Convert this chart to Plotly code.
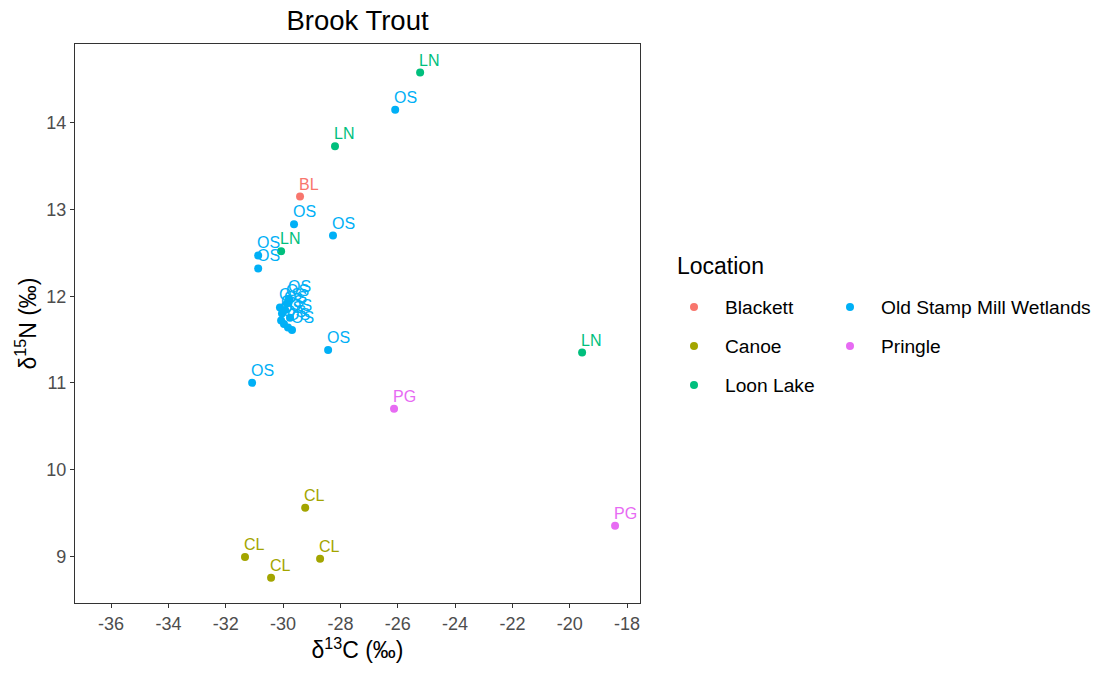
import plotly.graph_objects as go

# Brook trout stable isotope values by sampling location
locations = ["Blackett", "Canoe", "Loon Lake", "Old Stamp Mill Wetlands", "Pringle"]
codes = {"Blackett": "BL", "Canoe": "CL", "Loon Lake": "LN",
         "Old Stamp Mill Wetlands": "OS", "Pringle": "PG"}
colors = {"Blackett": "#F8766D", "Canoe": "#A3A500", "Loon Lake": "#00BF7D",
          "Old Stamp Mill Wetlands": "#00B0F6", "Pringle": "#E76BF3"}

blackett_c = [-29.41]
blackett_n = [13.15]

canoe_c = [-29.23, -31.33, -28.71, -30.42]
canoe_n = [9.56, 8.99, 8.97, 8.75]

loon_c = [-25.22, -28.19, -30.07, -19.57]
loon_n = [14.58, 13.73, 12.52, 11.35]

oldstamp_c = [-26.09, -29.62, -28.26, -30.87, -30.87, -30.11, -29.79, -29.86,
              -30.04, -29.93, -30.07, -29.97, -29.83, -29.69, -29.76, -28.43, -31.08]
oldstamp_n = [14.15, 12.83, 12.70, 12.47, 12.32, 11.87, 11.97, 11.92,
              11.80, 11.84, 11.72, 11.68, 11.64, 11.61, 11.75, 11.38, 11.00]

pringle_c = [-26.13, -18.42]
pringle_n = [10.70, 9.35]

series = {
    "Blackett": (blackett_c, blackett_n),
    "Canoe": (canoe_c, canoe_n),
    "Loon Lake": (loon_c, loon_n),
    "Old Stamp Mill Wetlands": (oldstamp_c, oldstamp_n),
    "Pringle": (pringle_c, pringle_n),
}

x_ticks = list(range(-36, -17, 2))
y_ticks = [9, 10, 11, 12, 13, 14]

# two legend columns, filled top to bottom
legend_column = {"Blackett": "legend", "Canoe": "legend", "Loon Lake": "legend",
                 "Old Stamp Mill Wetlands": "legend2", "Pringle": "legend2"}

fig = go.Figure()
annotations = []
for loc in locations:
    xs, ys = series[loc]
    fig.add_trace(go.Scatter(
        x=xs, y=ys, name=loc, mode="markers",
        marker=dict(color=colors[loc], size=8),
        legend=legend_column[loc], legendgroup=loc,
    ))
    # site code written just above and to the right of each point
    for xv, yv in zip(xs, ys):
        annotations.append(dict(
            x=xv, y=yv, xref="x", yref="y", text=codes[loc], showarrow=False,
            xanchor="left", yanchor="bottom", xshift=-3, yshift=2,
            font=dict(color=colors[loc], size=16),
        ))

plot_left, plot_right = 75, 640
plot_top, plot_bottom = 44, 603
plot_w = plot_right - plot_left
plot_h = plot_bottom - plot_top


def px_x(p):
    return (p - plot_left) / plot_w


def px_y(p):
    return 1 - (p - plot_top) / plot_h


# legend heading shared by both columns
annotations.append(dict(
    x=px_x(675), y=px_y(266), xref="paper", yref="paper", text="Location",
    showarrow=False, xanchor="left", yanchor="middle",
    font=dict(size=23, color="black"),
))

axis_common = dict(
    showgrid=False, zeroline=False, showline=True, mirror=True,
    linecolor="#333333", linewidth=1.2, ticks="outside", ticklen=4,
    tickcolor="#333333", tickfont=dict(size=18, color="#4D4D4D"),
)

legend_common = dict(
    yanchor="top", y=px_y(288), xanchor="left",
    font=dict(size=19.2, color="black"),
    itemwidth=52, tracegroupgap=11, traceorder="grouped",
    bgcolor="rgba(0,0,0,0)",
)

fig.update_layout(
    width=1103, height=677,
    margin=dict(l=plot_left, r=1103 - plot_right, t=plot_top, b=677 - plot_bottom,
                autoexpand=False),
    paper_bgcolor="white", plot_bgcolor="white",
    font=dict(family="Liberation Sans, Arial, sans-serif", color="black"),
    title=dict(text="Brook Trout", x=(plot_left + plot_right) / 2 / 1103,
               xanchor="center", y=1 - 20 / 677, yanchor="middle",
               font=dict(size=27.5, color="black")),
    xaxis=dict(range=[-37.26, -17.55], tickvals=x_ticks,
               ticktext=[str(v) for v in x_ticks],
               title=dict(text="δ<sup>13</sup>C (‰)", font=dict(size=23), standoff=6),
               **axis_common),
    yaxis=dict(range=[8.46, 14.91], tickvals=y_ticks,
               ticktext=[str(v) for v in y_ticks],
               title=dict(text="δ<sup>15</sup>N (‰)", font=dict(size=23), standoff=3),
               **axis_common),
    annotations=annotations,
    showlegend=True,
    legend=dict(x=px_x(663), **legend_common),
    legend2=dict(x=px_x(819), **legend_common),
)

fig.write_html("out.html")
